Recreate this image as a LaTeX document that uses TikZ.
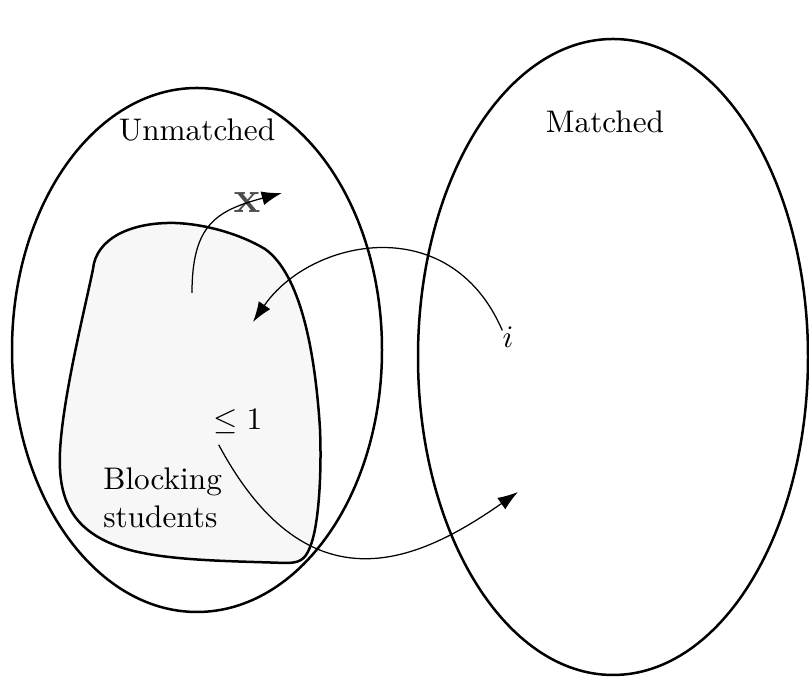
\documentclass[tikz,border=0pt]{standalone}
\usepackage{amsmath,amssymb}
\usetikzlibrary{arrows.meta}

\begin{document}
\begin{tikzpicture}[
                        x=0.32pt,
                        y=0.32pt,
                        >={Latex[length=6.5pt,width=4.5pt]},
                        thick
                    ]
                    \tikzstyle{every node}=[inner sep=1pt]
                    \tikzstyle{link}=[->,thin]
                    \useasboundingbox (0,0) rectangle (809,679);

                    % the two sets
                    \draw (197,329) ellipse [x radius=185, y radius=262];
                    \draw (613,322) ellipse [x radius=195, y radius=318];
                    \draw[fill=black!3] (93,410)
                        .. controls (96,440) and (130,457) .. (175,456)
                        .. controls (205,455) and (240,445) .. (265,430)
                        .. controls (300,405) and (315,330) .. (320,250)
                        .. controls (322,200) and (318,150) .. (310,132)
                        .. controls (305,118) and (298,116) .. (285,116)
                        .. controls (230,118) and (160,118) .. (120,132)
                        .. controls (80,146) and (62,170) .. (60,210)
                        .. controls (57,260) and (85,370) .. (93,410) -- cycle;

                    \node (U) at (197,549) {Unmatched};
                    \node (M) at (605,557) {Matched};
                    \node[align=left,anchor=west] (B) at (99,181) {Blocking\\students};
                    \node (L) at (238,257) {$\leq 1$};
                    \node (I) at (508,342) {$i$};
                    \node[text=black!70] (X) at (247,476) {\Large$\mathbf{x}$};

                    \coordinate (xs) at (192,386);
                    \coordinate (xe) at (282,486);
                    \coordinate (ie) at (253,357);
                    \coordinate (le) at (518,187);

                    \draw[link] (xs) to[out=90,in=195,looseness=1.3] (xe);
                    \draw[link] ([xshift=1.3pt,yshift=-2.6pt]I.north west)
                        .. controls (450,470) and (310,440) .. (ie);
                    \draw[link] ([xshift=3pt,yshift=-2pt]L.south west)
                        .. controls (310,64) and (422,120) .. (le);

                \end{tikzpicture}
\end{document}
